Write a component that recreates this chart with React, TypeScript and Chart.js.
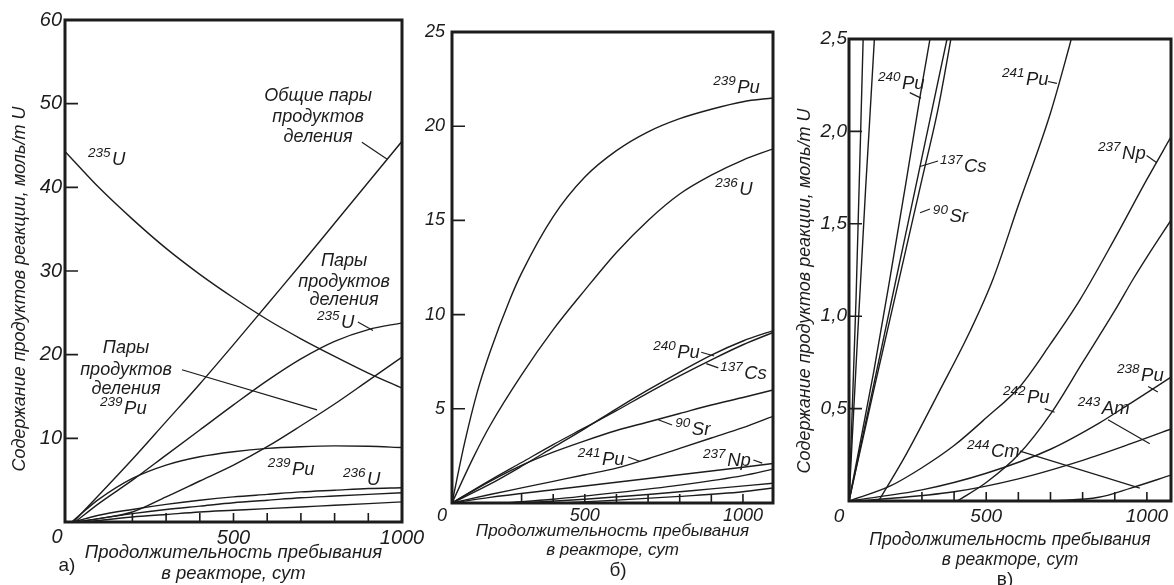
import { useEffect, useRef } from 'react';
import { Chart, registerables } from 'chart.js';

Chart.register(...registerables);

type Pt = [number, number];

// ---------- Panel a (x: days, y: mol / t U) ----------
const aU235: Pt[] = [[0, 44.3], [100, 40.0], [200, 36.2], [300, 32.7], [400, 29.6], [500, 26.8], [600, 24.2], [700, 21.9], [800, 19.8], [900, 17.8], [1000, 16.0]];
const aTotalPairs: Pt[] = [[25, 0], [100, 3.2], [200, 7.5], [300, 12.0], [400, 16.5], [500, 21.2], [600, 26.0], [700, 30.8], [800, 35.7], [900, 40.6], [1000, 45.5]];
const aPairsU235: Pt[] = [[30, 0], [100, 2.2], [200, 5.0], [300, 8.0], [400, 11.0], [500, 14.0], [600, 16.9], [700, 19.5], [800, 21.6], [900, 23.0], [1000, 23.8]];
const aPairsPu239: Pt[] = [[30, 0], [100, 0.4], [200, 1.2], [300, 3.0], [400, 4.9], [500, 6.8], [600, 9.0], [700, 11.5], [800, 14.1], [900, 16.9], [1000, 19.7]];
const aPu239: Pt[] = [[20, 0], [60, 1.4], [100, 2.7], [200, 5.2], [300, 6.8], [400, 7.8], [500, 8.4], [600, 8.8], [700, 9.0], [800, 9.1], [900, 9.05], [1000, 8.9]];
const aU236: Pt[] = [[25, 0], [100, 0.8], [200, 1.5], [300, 2.1], [400, 2.6], [500, 3.0], [600, 3.3], [700, 3.6], [800, 3.8], [900, 4.0], [1000, 4.1]];
const aLowB: Pt[] = [[40, 0], [100, 0.4], [200, 1.0], [300, 1.5], [400, 1.9], [500, 2.3], [600, 2.6], [700, 2.9], [800, 3.1], [900, 3.3], [1000, 3.5]];
const aLowC: Pt[] = [[60, 0], [200, 0.6], [300, 0.9], [400, 1.2], [500, 1.4], [600, 1.6], [700, 1.8], [800, 2.0], [900, 2.2], [1000, 2.4]];

// ---------- Panel b ----------
const bPu239: Pt[] = [[80, 0], [120, 3.2], [160, 5.9], [200, 8.0], [263, 10.8], [300, 12.2], [400, 15.2], [500, 17.3], [600, 18.7], [700, 19.7], [800, 20.4], [900, 20.9], [1000, 21.3], [1095, 21.5]];
const bU236: Pt[] = [[80, 0], [150, 2.5], [200, 4.1], [300, 6.8], [400, 9.2], [500, 11.3], [600, 13.3], [700, 15.0], [800, 16.4], [900, 17.4], [1000, 18.2], [1095, 18.8]];
const bPu240: Pt[] = [[80, 0], [200, 1.0], [300, 1.95], [400, 2.95], [500, 3.95], [600, 5.0], [700, 6.0], [800, 6.95], [900, 7.85], [1000, 8.6], [1095, 9.15]];
const bCs137: Pt[] = [[80, 0], [200, 1.2], [300, 2.15], [400, 3.1], [500, 4.0], [600, 4.9], [700, 5.85], [800, 6.75], [900, 7.6], [1000, 8.4], [1095, 9.05]];
const bSr90: Pt[] = [[80, 0], [200, 1.15], [300, 2.0], [400, 2.7], [500, 3.3], [600, 3.85], [700, 4.3], [800, 4.75], [900, 5.2], [1000, 5.6], [1095, 6.0]];
const bPu241: Pt[] = [[80, 0], [200, 0.45], [300, 0.8], [400, 1.15], [500, 1.5], [600, 1.85], [700, 2.35], [800, 2.9], [900, 3.45], [1000, 4.0], [1095, 4.6]];
const bNp237: Pt[] = [[80, 0], [200, 0.3], [400, 0.7], [600, 1.1], [800, 1.5], [1000, 1.9], [1095, 2.1]];
const bLowA: Pt[] = [[250, 0], [400, 0.2], [600, 0.55], [800, 0.95], [1000, 1.45], [1095, 1.8]];
const bLowB: Pt[] = [[300, 0], [500, 0.2], [700, 0.45], [900, 0.75], [1095, 1.05]];
const bLowC: Pt[] = [[420, 0], [600, 0.15], [800, 0.35], [1000, 0.6], [1095, 0.8]];

// ---------- Panel c ----------
const cPu239: Pt[] = [[73, 0], [95, 1.1], [117, 2.5], [125, 3.0]];
const cU236: Pt[] = [[73, 0], [100, 0.9], [125, 1.7], [152, 2.5], [160, 2.8]];
const cPu240: Pt[] = [[73, 0], [150, 0.7], [200, 1.2], [250, 1.72], [300, 2.25], [325, 2.5], [340, 2.65]];
const cCs137: Pt[] = [[73, 0], [150, 0.63], [200, 1.04], [250, 1.45], [300, 1.86], [378, 2.5], [390, 2.6]];
const cSr90: Pt[] = [[73, 0], [150, 0.6], [200, 0.98], [250, 1.36], [300, 1.74], [350, 2.12], [385, 2.45], [395, 2.55]];
const cPu241: Pt[] = [[165, 0], [250, 0.25], [356, 0.6], [450, 0.92], [521, 1.2], [600, 1.6], [700, 2.1], [757, 2.45], [780, 2.6]];
const cNp237: Pt[] = [[73, 0], [200, 0.08], [300, 0.18], [400, 0.3], [500, 0.45], [605, 0.62], [700, 0.85], [792, 1.09], [900, 1.42], [1000, 1.74], [1075, 1.97]];
const cPu242: Pt[] = [[410, 0], [500, 0.1], [600, 0.25], [700, 0.47], [800, 0.75], [900, 1.03], [957, 1.2], [1000, 1.32], [1075, 1.52]];
const cPu238: Pt[] = [[73, 0], [300, 0.06], [500, 0.15], [700, 0.28], [850, 0.42], [950, 0.53], [1075, 0.67]];
const cAm243: Pt[] = [[110, 0], [400, 0.05], [600, 0.12], [800, 0.22], [950, 0.31], [1075, 0.39]];
const cCm244: Pt[] = [[700, 0], [850, 0.02], [950, 0.07], [1075, 0.14]];

// ---------- tick values ----------
const aYTicks = [10, 20, 30, 40, 50, 60];
const bYTicks = [5, 10, 15, 20, 25];
const cYTicks = [0.5, 1.0, 1.5, 2.0, 2.5];
const xLabelTicks = [500, 1000];
const aXMarks = [200, 300, 400, 500, 600, 700, 800, 900];
const bcXMarks = [300, 400, 500, 600, 700, 800, 900, 1000];

const Y_TITLE = 'Содержание продуктов реакции, моль/т U';
const X_TITLE = ['Продолжительность пребывания', 'в реакторе, сут'];

const FAMILY = '"Liberation Sans", Arial, Helvetica, sans-serif';
const INK = '#1c1c1c';

type Phrase = { x: number; y: number; text: string };
type Iso = { x: number; y: number; mass: string; symbol: string };
type Leader = [number, number, number, number];

interface Panel {
  left: number;
  width: number;
  area: { left: number; top: number; right: number; bottom: number };
  xMin: number; xMax: number; yMin: number; yMax: number;
  yTicks: number[]; xMarks: number[]; yMarks: number[];
  comma: boolean;
  series: Pt[][];
  phrases: Phrase[];
  isotopes: Iso[];
  leaders: Leader[];
  tickSize: number; xTickPad: number; yTickPad: number;
  titleSize: number; titleLine: number; titlePadBottom: number;
  yTitle?: { x: number; y: number; size: number };
  letter: { text: string; x: number; y: number };
  zero: { dx: number; dy: number };
}

const panels: Panel[] = [
  {
    left: 0, width: 440,
    area: { left: 65, top: 20, right: 402, bottom: 522 },
    xMin: 0, xMax: 1000, yMin: 0, yMax: 60,
    yTicks: aYTicks, xMarks: aXMarks, yMarks: [10, 20, 30, 40, 50], comma: false,
    series: [aU235, aTotalPairs, aPairsU235, aPairsPu239, aPu239, aU236, aLowB, aLowC],
    phrases: [
      { x: 751, y: 50.9, text: 'Общие пары' },
      { x: 751, y: 48.4, text: 'продуктов' },
      { x: 751, y: 46.0, text: 'деления' },
      { x: 828, y: 31.2, text: 'Пары' },
      { x: 828, y: 28.7, text: 'продуктов' },
      { x: 828, y: 26.5, text: 'деления' },
      { x: 181, y: 20.8, text: 'Пары' },
      { x: 181, y: 18.2, text: 'продуктов' },
      { x: 181, y: 15.9, text: 'деления' },
    ],
    isotopes: [
      { x: 68, y: 42.65, mass: '235', symbol: 'U' },
      { x: 748, y: 23.2, mass: '235', symbol: 'U' },
      { x: 104, y: 12.9, mass: '239', symbol: 'Pu' },
      { x: 602, y: 5.6, mass: '239', symbol: 'Pu' },
      { x: 825, y: 4.4, mass: '236', symbol: 'U' },
    ],
    leaders: [
      [881, 45.4, 955, 43.4],
      [869, 23.9, 914, 22.9],
      [347, 18.2, 748, 13.4],
    ],
    tickSize: 20, xTickPad: 4, yTickPad: 3,
    titleSize: 18.5, titleLine: 21, titlePadBottom: 0.5,
    yTitle: { x: 20, y: 289, size: 18 },
    letter: { text: 'а)', x: 67, y: 566 },
    zero: { dx: -8, dy: 15 },
  },
  {
    left: 410, width: 400,
    area: { left: 452, top: 32, right: 773, bottom: 503 },
    xMin: 80, xMax: 1095, yMin: 0, yMax: 25,
    yTicks: bYTicks, xMarks: bcXMarks, yMarks: [5, 10, 15, 20], comma: false,
    series: [bPu239, bU236, bPu240, bCs137, bSr90, bPu241, bNp237, bLowA, bLowB, bLowC],
    phrases: [],
    isotopes: [
      { x: 906, y: 21.76, mass: '239', symbol: 'Pu' },
      { x: 912, y: 16.35, mass: '236', symbol: 'U' },
      { x: 716, y: 7.7, mass: '240', symbol: 'Pu' },
      { x: 928, y: 6.58, mass: '137', symbol: 'Cs' },
      { x: 786, y: 3.6, mass: '90', symbol: 'Sr' },
      { x: 478, y: 2.0, mass: '241', symbol: 'Pu' },
      { x: 874, y: 1.96, mass: '237', symbol: 'Np' },
    ],
    leaders: [
      [868, 8.0, 909, 7.8],
      [922, 7.17, 884, 7.4],
      [776, 4.14, 732, 4.42],
      [637, 2.44, 675, 2.2],
      [1033, 2.28, 1061, 2.12],
    ],
    tickSize: 18, xTickPad: 2, yTickPad: 7,
    titleSize: 17, titleLine: 19, titlePadBottom: 25.5,
    letter: { text: 'б)', x: 208, y: 571 },
    zero: { dx: -10, dy: 13 },
  },
  {
    left: 780, width: 394,
    area: { left: 849, top: 39, right: 1171, bottom: 501 },
    xMin: 73, xMax: 1075, yMin: 0, yMax: 2.5,
    yTicks: cYTicks, xMarks: bcXMarks, yMarks: [0.5, 1.0, 1.5, 2.0], comma: true,
    series: [cPu239, cU236, cPu240, cCs137, cSr90, cPu241, cNp237, cPu242, cPu238, cAm243, cCm244],
    phrases: [],
    isotopes: [
      { x: 163, y: 2.23, mass: '240', symbol: 'Pu' },
      { x: 356, y: 1.78, mass: '137', symbol: 'Cs' },
      { x: 334, y: 1.51, mass: '90', symbol: 'Sr' },
      { x: 549, y: 2.25, mass: '241', symbol: 'Pu' },
      { x: 848, y: 1.85, mass: '237', symbol: 'Np' },
      { x: 552, y: 0.53, mass: '242', symbol: 'Pu' },
      { x: 785, y: 0.47, mass: '243', symbol: 'Am' },
      { x: 907, y: 0.65, mass: '238', symbol: 'Pu' },
      { x: 440, y: 0.24, mass: '244', symbol: 'Cm' },
    ],
    leaders: [
      [262, 2.21, 297, 2.18],
      [294, 1.81, 350, 1.84],
      [294, 1.56, 325, 1.58],
      [692, 2.27, 720, 2.26],
      [999, 1.87, 1031, 1.83],
      [682, 0.5, 713, 0.48],
      [879, 0.44, 1009, 0.31],
      [1004, 0.62, 1034, 0.59],
      [605, 0.27, 978, 0.07],
    ],
    tickSize: 19, xTickPad: 4, yTickPad: 2,
    titleSize: 17.5, titleLine: 20, titlePadBottom: 15,
    yTitle: { x: 25, y: 291, size: 18 },
    letter: { text: 'в)', x: 225, y: 580 },
    zero: { dx: -10, dy: 16 },
  },
];

const decorPlugin = {
  id: 'decor',
  afterDatasetsDraw(chart: any, _args: any, opts: any) {
    const p: Panel = opts.panel;
    if (!p) return;
    const { ctx, chartArea: ca } = chart;
    const X = (v: number) => chart.scales.x.getPixelForValue(v);
    const Y = (v: number) => chart.scales.y.getPixelForValue(v);
    ctx.save();
    ctx.strokeStyle = INK;
    ctx.fillStyle = INK;
    ctx.lineCap = 'butt';
    // inward tick marks
    ctx.lineWidth = 1.6;
    ctx.beginPath();
    for (const v of p.xMarks) { const px = X(v); ctx.moveTo(px, ca.bottom); ctx.lineTo(px, ca.bottom - 9); }
    for (const v of p.yMarks) { const py = Y(v); ctx.moveTo(ca.left, py); ctx.lineTo(ca.left + 13, py); }
    ctx.stroke();
    // leader lines
    ctx.lineWidth = 1.2;
    ctx.beginPath();
    for (const [x1, y1, x2, y2] of p.leaders) { ctx.moveTo(X(x1), Y(y1)); ctx.lineTo(X(x2), Y(y2)); }
    ctx.stroke();
    // frame
    ctx.lineWidth = 3;
    ctx.strokeRect(ca.left, ca.top, ca.right - ca.left, ca.bottom - ca.top);
    // phrases
    ctx.font = `italic 18px ${FAMILY}`;
    ctx.textAlign = 'center';
    ctx.textBaseline = 'middle';
    for (const t of p.phrases) ctx.fillText(t.text, X(t.x), Y(t.y));
    // isotope labels with superscript mass numbers
    ctx.textAlign = 'left';
    ctx.textBaseline = 'alphabetic';
    for (const l of p.isotopes) {
      const px = X(l.x), py = Y(l.y);
      ctx.font = `italic 13.5px ${FAMILY}`;
      ctx.fillText(l.mass, px, py - 8);
      const w = ctx.measureText(l.mass).width;
      ctx.font = `italic 18.5px ${FAMILY}`;
      ctx.fillText(l.symbol, px + w + 1.5, py);
    }
    // origin label
    ctx.font = `italic ${p.tickSize}px ${FAMILY}`;
    ctx.textAlign = 'center';
    ctx.textBaseline = 'middle';
    ctx.fillText('0', ca.left + p.zero.dx, ca.bottom + p.zero.dy);
    // vertical axis title
    if (p.yTitle) {
      ctx.save();
      ctx.translate(p.yTitle.x, p.yTitle.y);
      ctx.rotate(-Math.PI / 2);
      ctx.font = `italic ${p.yTitle.size}px ${FAMILY}`;
      ctx.fillText(Y_TITLE, 0, 0);
      ctx.restore();
    }
    // panel letter
    ctx.font = `19px ${FAMILY}`;
    ctx.fillText(p.letter.text, p.letter.x, p.letter.y);
    ctx.restore();
  },
};

function PanelChart({ p }: { p: Panel }) {
  const ref = useRef<HTMLCanvasElement>(null);
  useEffect(() => {
    const canvas = ref.current;
    if (!canvas) return;
    const H = 585;
    const chart = new Chart(canvas, {
      type: 'line',
      data: {
        datasets: p.series.map((s) => ({
          data: s.map(([x, y]) => ({ x, y })),
          borderColor: INK,
          borderWidth: 1.4,
          pointRadius: 0,
          fill: false,
          cubicInterpolationMode: 'monotone',
        })),
      } as any,
      options: {
        responsive: false,
        animation: false,
        events: [],
        layout: { padding: { left: 0, top: p.area.top, right: p.left + p.width - p.area.right, bottom: 0 } },
        plugins: {
          legend: { display: false },
          tooltip: { enabled: false },
          decor: { panel: p },
        } as any,
        scales: {
          x: {
            type: 'linear',
            min: p.xMin,
            max: p.xMax,
            grid: { display: false, drawTicks: false },
            border: { display: false },
            ticks: {
              autoSkip: false,
              maxRotation: 0,
              padding: p.xTickPad,
              color: INK,
              font: { family: FAMILY, size: p.tickSize, style: 'italic', lineHeight: 1.2 },
              callback: (v: any) => String(v),
            },
            afterBuildTicks: (s: any) => { s.ticks = xLabelTicks.map((value) => ({ value })); },
            afterFit: (s: any) => { s.height = H - p.area.bottom; },
            title: {
              display: true,
              text: X_TITLE,
              color: INK,
              font: { family: FAMILY, size: p.titleSize, style: 'italic', lineHeight: `${p.titleLine}px` },
              padding: { top: 0, bottom: p.titlePadBottom },
            },
          },
          y: {
            type: 'linear',
            min: p.yMin,
            max: p.yMax,
            grid: { display: false, drawTicks: false },
            border: { display: false },
            ticks: {
              autoSkip: false,
              padding: p.yTickPad,
              color: INK,
              font: { family: FAMILY, size: p.tickSize, style: 'italic', lineHeight: 1.2 },
              callback: (v: any) => (p.comma ? Number(v).toFixed(1).replace('.', ',') : String(v)),
            },
            afterBuildTicks: (s: any) => { s.ticks = p.yTicks.map((value) => ({ value })); },
            afterFit: (s: any) => { s.width = p.area.left - p.left; },
          },
        },
      } as any,
      plugins: [decorPlugin as any],
    });
    return () => chart.destroy();
  }, [p]);
  return (
    <canvas
      ref={ref}
      width={p.width}
      height={585}
      style={{ position: 'absolute', left: p.left, top: 0, width: p.width, height: 585 }}
    />
  );
}

export default function App() {
  return (
    <div style={{ position: 'absolute', left: 0, top: 0, width: 1174, height: 585, background: '#fff', overflow: 'hidden' }}>
      {panels.map((p, i) => (
        <PanelChart key={i} p={p} />
      ))}
    </div>
  );
}
